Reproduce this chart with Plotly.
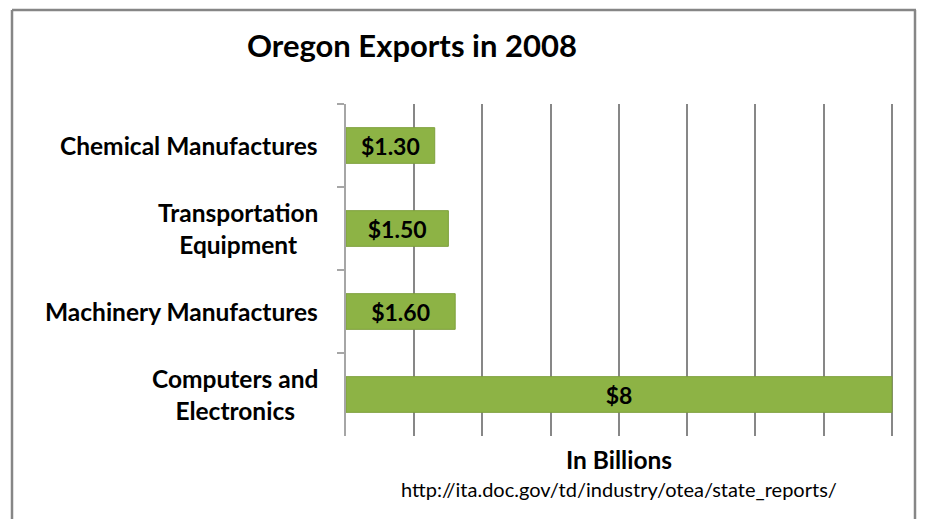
import plotly.graph_objects as go

categories = ["Chemical Manufactures", "Transportation<br>Equipment",
              "Machinery Manufactures", "Computers and<br>Electronics"]
values = [1.3, 1.5, 1.6, 8]
value_labels = ["$1.30", "$1.50", "$1.60", "$8"]
title = "Oregon Exports in 2008"
x_title = "In Billions"
source = "http://ita.doc.gov/td/industry/otea/state_reports/"

FONT = "Lato"
OFF = 8  # page body margin
XMAX = 8.03
W, H = 926 - OFF, 527 - 2 * OFF
PL, PT, PB = 346 - OFF, 104 - OFF, 436 - OFF
PR = PL + round(546 * XMAX / 8)
PW, PH = PR - PL, PB - PT


def px(x):
    return (x - OFF - PL) / PW


def py(y):
    return (PB - (y - OFF)) / PH


fig = go.Figure()
fig.add_trace(go.Bar(
    y=list(range(len(categories))), x=values, orientation="h",
    text=["<b>%s</b>" % t for t in value_labels],
    textposition="inside", insidetextanchor="middle",
    textfont=dict(family=FONT, size=23, color="black"),
    marker=dict(color="#8DB345", line=dict(color="#7EA03C", width=1)),
    width=0.43, cliponaxis=False, textangle=0,
))

annotations = []
for i, c in enumerate(categories):
    annotations.append(dict(
        x=0, xref="paper", y=i, yref="y", text="<b>%s</b>" % c,
        xanchor="right", yanchor="middle", align="center", xshift=-26,
        showarrow=False, font=dict(family=FONT, size=24.5, color="black"),
    ))
annotations.append(dict(
    x=px(412), xref="paper", y=py(45), yref="paper",
    text="<b>%s</b>" % title, showarrow=False, xanchor="center", yanchor="middle",
    font=dict(family=FONT, size=31, color="black")))
annotations.append(dict(
    x=px(619), xref="paper", y=py(459), yref="paper",
    text="<b>%s</b>" % x_title, showarrow=False, xanchor="center", yanchor="middle",
    font=dict(family=FONT, size=24.5, color="black")))
annotations.append(dict(
    x=px(619), xref="paper", y=py(489), yref="paper",
    text=source, showarrow=False, xanchor="center", yanchor="middle",
    font=dict(family=FONT, size=20, color="black")))

border = dict(color="#868686", width=2.5)
fig.update_layout(
    width=W, height=H,
    margin=dict(l=PL, r=W - PR, t=PT, b=H - PB),
    paper_bgcolor="white", plot_bgcolor="white",
    showlegend=False,
    annotations=annotations,
    xaxis=dict(range=[0, XMAX], dtick=1, showgrid=True, gridcolor="#878787",
               gridwidth=2, showticklabels=False, zeroline=False,
               showline=False, fixedrange=True),
    yaxis=dict(type="category", autorange="reversed", showticklabels=False,
               showgrid=False, showline=True, linecolor="#A6A6A6", linewidth=2,
               ticks="outside", ticklen=7, tickcolor="#A6A6A6", tickwidth=2,
               tickson="boundaries", zeroline=False),
    shapes=[
        dict(type="line", xref="paper", yref="paper", x0=px(12), x1=px(916),
             y0=py(10), y1=py(10), line=border),
        dict(type="line", xref="paper", yref="paper", x0=px(12), x1=px(12),
             y0=py(10), y1=py(545), line=border),
        dict(type="line", xref="paper", yref="paper", x0=px(915), x1=px(915),
             y0=py(10), y1=py(545), line=border),
    ],
)
fig.write_html("out.html")
